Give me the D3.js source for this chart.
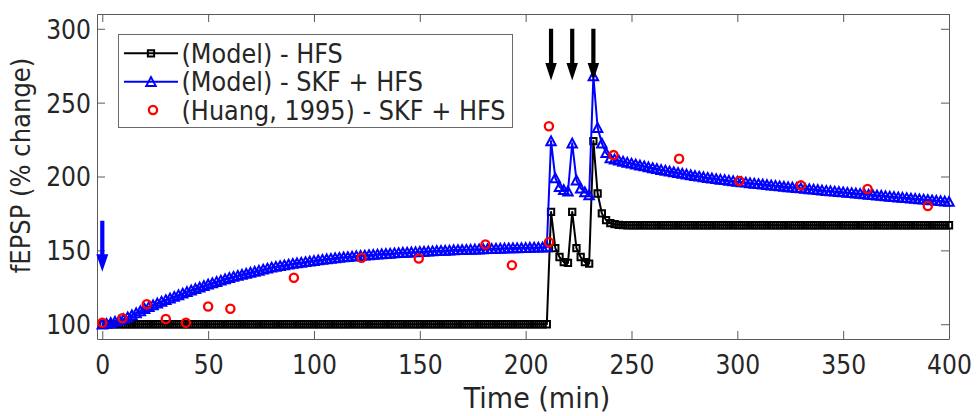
<!DOCTYPE html>
<html>
<head>
<meta charset="utf-8">
<script src="https://cdn.jsdelivr.net/npm/d3@7"></script>
<style>
  html, body { margin: 0; padding: 0; background: #fff; }
  svg { display: block; }
  text { font-family: "DejaVu Sans", Verdana, sans-serif; fill: #262626; }
</style>
</head>
<body>
<svg id="chart" width="977" height="416"></svg>
<script>
// Sampling grid of the model runs (minutes)
const modelStep = 2;
const modelTime = d3.range(0, 400 + modelStep, modelStep);

// (Model) - HFS
const hfsModel = [
  100, 100, 100, 100, 100, 100, 100, 100, 100, 100,
  100, 100, 100, 100, 100, 100, 100, 100, 100, 100,
  100, 100, 100, 100, 100, 100, 100, 100, 100, 100,
  100, 100, 100, 100, 100, 100, 100, 100, 100, 100,
  100, 100, 100, 100, 100, 100, 100, 100, 100, 100,
  100, 100, 100, 100, 100, 100, 100, 100, 100, 100,
  100, 100, 100, 100, 100, 100, 100, 100, 100, 100,
  100, 100, 100, 100, 100, 100, 100, 100, 100, 100,
  100, 100, 100, 100, 100, 100, 100, 100, 100, 100,
  100, 100, 100, 100, 100, 100, 100, 100, 100, 100,
  100, 100, 100, 100, 100, 100,
  176, 151.5, 145.5, 142, 141.5, 176, 151.5, 145.5, 142, 141,
  224, 188.5, 175, 170.5, 168.5, 167.7, 167.3, 167.1, 167, 167,
  167, 167, 167, 167, 167, 167, 167, 167, 167, 167,
  167, 167, 167, 167, 167, 167, 167, 167, 167, 167,
  167, 167, 167, 167, 167, 167, 167, 167, 167, 167,
  167, 167, 167, 167, 167, 167, 167, 167, 167, 167,
  167, 167, 167, 167, 167, 167, 167, 167, 167, 167,
  167, 167, 167, 167, 167, 167, 167, 167, 167, 167,
  167, 167, 167, 167, 167, 167, 167, 167, 167, 167,
  167, 167, 167, 167, 167
];

// (Model) - SKF + HFS
const skfHfsModel = [
  100.0, 100.4, 101.0, 101.8, 102.6, 103.5, 104.8, 106.2, 107.6, 109.0,
  110.5, 111.8, 113.0, 114.2, 115.4, 116.5, 117.6, 118.7, 119.8, 120.9,
  122.0, 123.0, 124.0, 125.0, 126.0, 127.0, 127.9, 128.8, 129.7, 130.6,
  131.5, 132.2, 132.9, 133.6, 134.3, 135.0, 135.7, 136.4, 137.1, 137.8,
  138.5, 139.0, 139.5, 140.0, 140.5, 141.0, 141.4, 141.8, 142.2, 142.6,
  143.0, 143.4, 143.7, 144.1, 144.4, 144.8, 145.1, 145.4, 145.6, 145.9,
  146.2, 146.4, 146.6, 146.9, 147.1, 147.3, 147.5, 147.7, 147.9, 148.1,
  148.3, 148.5, 148.6, 148.8, 148.9, 149.1, 149.2, 149.4, 149.5, 149.7,
  149.8, 149.9, 150.0, 150.2, 150.3, 150.4, 150.5, 150.6, 150.7, 150.8,
  150.9, 151.0, 151.1, 151.2, 151.3, 151.4, 151.5, 151.6, 151.6, 151.7,
  151.8, 151.9, 152.0, 152.0, 152.1, 152.2,
  224, 199, 193, 191, 190, 222.5, 197.5, 192, 189.5, 187.5,
  268, 233, 222.5, 216, 212.5, 211.7, 210.9, 210.2, 209.5, 208.9,
  208.3, 207.6, 207.0, 206.4, 205.8, 205.2, 204.6, 204.1, 203.5, 203.0,
  202.5, 202.0, 201.5, 201.0, 200.5, 200.1, 199.6, 199.2, 198.8, 198.4,
  198.0, 197.7, 197.3, 197.0, 196.6, 196.3, 196.0, 195.6, 195.3, 195.0,
  194.7, 194.4, 194.1, 193.8, 193.5, 193.2, 192.9, 192.7, 192.4, 192.1,
  191.8, 191.5, 191.3, 191.0, 190.7, 190.4, 190.2, 189.9, 189.7, 189.4,
  189.1, 188.9, 188.6, 188.4, 188.1, 187.8, 187.6, 187.3, 187.1, 186.8,
  186.5, 186.3, 186.0, 185.8, 185.5, 185.2, 185.0, 184.7, 184.5, 184.2,
  184.0, 183.7, 183.5, 183.2, 183.0
];

// (Huang, 1995) - SKF + HFS, experimental points
const huangTime  = [0, 9.5, 21, 30, 39.5, 50, 60.5, 90.5, 122.5, 149.5, 181, 193.5, 211, 211, 241.5, 272.5, 301, 330, 361.5, 390];
const huangValue = [101, 104, 113.5, 103.5, 101, 112, 110.5, 131.5, 145, 144.5, 154, 140, 155.5, 234, 214.5, 212, 197, 194, 191.5, 180];

// Stimulus markers: SKF application and the three HFS trains
const skfArrowTime = [0];
const skfArrowSpan = [170, 135.5];
const hfsArrowTime = [212, 222, 232];
const hfsArrowSpan = [300, 265];

const xTicks = [0, 50, 100, 150, 200, 250, 300, 350, 400];
const yTicks = [100, 150, 200, 250, 300];

const seriesNames = ["(Model) - HFS", "(Model) - SKF + HFS", "(Huang, 1995) - SKF + HFS"];
const xTitle = "Time (min)";
const yTitle = "fEPSP (% change)";

// ---- layout ----
const W = 977, H = 416;
const margin = { top: 14, right: 28, bottom: 77, left: 97 };
const textStretch = 1.1;   // glyphs are drawn slightly taller than wide
const tickFont = 23.5, legendFont = 24;

const svg = d3.select("#chart");
const x = d3.scaleLinear().domain([-2.5, 400]).range([margin.left, W - margin.right]);
const y = d3.scaleLinear().domain([90, 310]).range([H - margin.bottom, margin.top]);

const BLACK = "#000000", BLUE = "#0000ff", RED = "#ff0000", AXIS = "#5a5a5a";

// ---- axes (box with inward ticks) ----
function styleAxis(g) {
  g.select(".domain").attr("stroke", AXIS).attr("stroke-width", 1);
  g.selectAll(".tick line").attr("stroke", AXIS).attr("stroke-width", 1);
}
const tickLen = 8;
const gx = svg.append("g").attr("transform", `translate(0,${y.range()[0]})`)
  .call(d3.axisBottom(x).tickValues(xTicks).tickSizeInner(-tickLen).tickSizeOuter(0).tickFormat(d3.format("d")));
styleAxis(gx);
gx.selectAll(".tick text")
  .attr("y", null).attr("dy", null)
  .attr("transform", `translate(0,35) scale(1,${textStretch})`)
  .attr("font-size", tickFont).attr("font-family", '"DejaVu Sans", Verdana, sans-serif').attr("fill", "#262626");

const gxt = svg.append("g").attr("transform", `translate(0,${y.range()[1]})`)
  .call(d3.axisTop(x).tickValues(xTicks).tickSizeInner(-tickLen).tickSizeOuter(0).tickFormat(""));
styleAxis(gxt);

const gy = svg.append("g").attr("transform", `translate(${x.range()[0]},0)`)
  .call(d3.axisLeft(y).tickValues(yTicks).tickSizeInner(-tickLen).tickSizeOuter(0).tickFormat(d3.format("d")));
styleAxis(gy);
gy.selectAll(".tick text")
  .attr("x", null).attr("dy", null)
  .attr("transform", `translate(-6,${0.3645 * tickFont * textStretch}) scale(1,${textStretch})`)
  .attr("text-anchor", "end")
  .attr("font-size", tickFont).attr("font-family", '"DejaVu Sans", Verdana, sans-serif').attr("fill", "#262626");

const gyr = svg.append("g").attr("transform", `translate(${x.range()[1]},0)`)
  .call(d3.axisRight(y).tickValues(yTicks).tickSizeInner(-tickLen).tickSizeOuter(0).tickFormat(""));
styleAxis(gyr);

// axis titles
svg.append("text")
  .attr("transform", `translate(537,408) scale(1,1.05)`)
  .attr("text-anchor", "middle").attr("font-size", 27)
  .text(xTitle);
svg.append("text")
  .attr("transform", `translate(30,165.5) scale(${textStretch},1) rotate(-90)`)
  .attr("text-anchor", "middle").attr("font-size", 24.3)
  .text(yTitle);

// ---- marker shapes ----
const sq = 6.3, triW = 9.4, triH = 8.4, circR = 4.1;
const markStroke = 2;
const squarePath = `M${-sq/2},${-sq/2}h${sq}v${sq}h${-sq}Z`;
const trianglePath = `M0,${-triH/2 - 0.4}L${triW/2},${triH/2}L${-triW/2},${triH/2}Z`;

// ---- series ----
const line = d3.line().x(d => x(d[0])).y(d => y(d[1]));
const hfsPts = modelTime.map((t, i) => [t, hfsModel[i]]);
const skfPts = modelTime.map((t, i) => [t, skfHfsModel[i]]);
const huangPts = huangTime.map((t, i) => [t, huangValue[i]]);

const plot = svg.append("g");

// HFS model: line + hollow squares
plot.append("path").datum(hfsPts)
  .attr("d", line).attr("fill", "none").attr("stroke", BLACK).attr("stroke-width", 2).attr("stroke-linejoin", "round");
plot.append("g").selectAll("path").data(hfsPts).join("path")
  .attr("d", squarePath)
  .attr("transform", d => `translate(${x(d[0])},${y(d[1])})`)
  .attr("fill", "none").attr("stroke", BLACK).attr("stroke-width", markStroke);

// SKF + HFS model: line + hollow triangles
plot.append("path").datum(skfPts)
  .attr("d", line).attr("fill", "none").attr("stroke", BLUE).attr("stroke-width", 2).attr("stroke-linejoin", "round");
plot.append("g").selectAll("path").data(skfPts).join("path")
  .attr("d", trianglePath)
  .attr("transform", d => `translate(${x(d[0])},${y(d[1])})`)
  .attr("fill", "none").attr("stroke", BLUE).attr("stroke-width", markStroke);

// experimental points: hollow circles
plot.append("g").selectAll("circle").data(huangPts).join("circle")
  .attr("cx", d => x(d[0])).attr("cy", d => y(d[1])).attr("r", circR)
  .attr("fill", "none").attr("stroke", RED).attr("stroke-width", 2.3);

// ---- stimulus arrows ----
function arrow(g, t, span, color, headW) {
  const xs = x(t), y0 = y(span[0]), y1 = y(span[1]);
  const headL = 17.5, shaft = 4.2;
  const yh = y1 - headL;
  g.append("path")
    .attr("d", `M${xs - shaft/2},${y0}L${xs + shaft/2},${y0}L${xs + shaft/2},${yh}L${xs + headW/2},${yh}` +
               `L${xs},${y1}L${xs - headW/2},${yh}L${xs - shaft/2},${yh}Z`)
    .attr("fill", color);
}
const arrows = svg.append("g");
skfArrowTime.forEach(t => arrow(arrows, t, skfArrowSpan, BLUE, 12));
hfsArrowTime.forEach(t => arrow(arrows, t, hfsArrowSpan, BLACK, 11.5));

// ---- legend ----
const lg = svg.append("g");
lg.append("rect")
  .attr("x", 118.5).attr("y", 34.5).attr("width", 394).attr("height", 93)
  .attr("fill", "#fff").attr("stroke", "#6a6a6a").attr("stroke-width", 1);
const rowY = [53.3, 81.7, 110];
const sampleX = [124, 178], markX = 151;
// row 1
lg.append("line").attr("x1", sampleX[0]).attr("x2", sampleX[1]).attr("y1", rowY[0]).attr("y2", rowY[0])
  .attr("stroke", BLACK).attr("stroke-width", 2);
lg.append("path").attr("d", squarePath).attr("transform", `translate(${markX},${rowY[0]})`)
  .attr("fill", "none").attr("stroke", BLACK).attr("stroke-width", markStroke);
// row 2
lg.append("line").attr("x1", sampleX[0]).attr("x2", sampleX[1]).attr("y1", rowY[1]).attr("y2", rowY[1])
  .attr("stroke", BLUE).attr("stroke-width", 2);
lg.append("path").attr("d", trianglePath).attr("transform", `translate(${markX},${rowY[1]})`)
  .attr("fill", "none").attr("stroke", BLUE).attr("stroke-width", markStroke);
// row 3
lg.append("circle").attr("cx", markX + 2).attr("cy", rowY[2]).attr("r", circR)
  .attr("fill", "none").attr("stroke", RED).attr("stroke-width", 2.3);

seriesNames.forEach((name, i) => {
  lg.append("text")
    .attr("transform", `translate(181.5,${rowY[i] + 0.3645 * legendFont * textStretch}) scale(1,${textStretch})`)
    .attr("font-size", legendFont)
    .text(name);
});
</script>
</body>
</html>
